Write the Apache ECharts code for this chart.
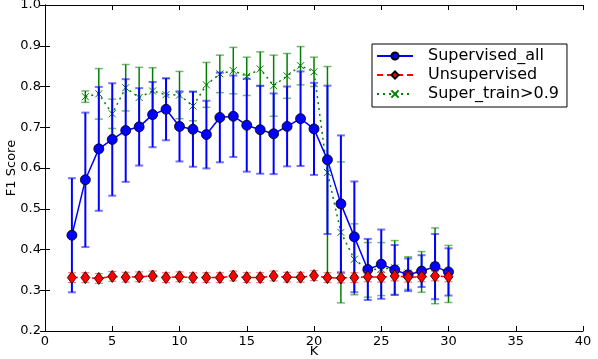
<!DOCTYPE html>
<html>
<head>
<meta charset="utf-8">
<script src="https://cdn.jsdelivr.net/npm/echarts@6/dist/echarts.min.js"></script>
<style>
  html, body { margin: 0; padding: 0; background: #fff; }
  #chart { width: 598px; height: 359px; }
</style>
</head>
<body>
<div id="chart"></div>
<script>
// K values
var kAll = [2, 3, 4, 5, 6, 7, 8, 9, 10, 11, 12, 13, 14, 15, 16, 17, 18, 19, 20, 21, 22, 23, 24, 25, 26, 27, 28, 29, 30];
var kTrain = [3, 4, 5, 6, 7, 8, 9, 10, 11, 12, 13, 14, 15, 16, 17, 18, 19, 20, 21, 22, 23, 24, 25, 26, 27, 28, 29, 30];

// Supervised_all
var supAll = [0.435, 0.571, 0.647, 0.670, 0.692, 0.701, 0.731, 0.744, 0.702, 0.695, 0.682, 0.724, 0.727, 0.705, 0.694, 0.684, 0.702, 0.721, 0.696, 0.620, 0.512, 0.431, 0.351, 0.364, 0.350, 0.338, 0.347, 0.358, 0.345];
var supAllErr = [0.140, 0.165, 0.152, 0.138, 0.126, 0.095, 0.080, 0.076, 0.086, 0.092, 0.083, 0.110, 0.100, 0.114, 0.108, 0.099, 0.098, 0.116, 0.113, 0.182, 0.168, 0.136, 0.075, 0.085, 0.061, 0.040, 0.039, 0.080, 0.058];

// Unsupervised
var unsup = [0.331, 0.331, 0.329, 0.334, 0.332, 0.333, 0.335, 0.331, 0.333, 0.331, 0.331, 0.331, 0.335, 0.331, 0.331, 0.335, 0.332, 0.332, 0.336, 0.331, 0.330, 0.331, 0.333, 0.332, 0.335, 0.332, 0.333, 0.335, 0.333];
var unsupErr = [0.012, 0.012, 0.012, 0.012, 0.012, 0.012, 0.012, 0.012, 0.012, 0.012, 0.012, 0.012, 0.012, 0.012, 0.012, 0.012, 0.012, 0.012, 0.012, 0.012, 0.012, 0.012, 0.012, 0.012, 0.012, 0.012, 0.012, 0.012, 0.012];

// Super_train>0.9
var supTrain = [0.775, 0.782, 0.733, 0.797, 0.773, 0.789, 0.780, 0.779, 0.752, 0.804, 0.831, 0.839, 0.825, 0.843, 0.802, 0.826, 0.851, 0.836, 0.589, 0.442, 0.376, 0.350, 0.352, 0.355, 0.342, 0.345, 0.360, 0.340];
var supTrainErr = [0.014, 0.062, 0.036, 0.057, 0.074, 0.057, 0.040, 0.058, 0.036, 0.055, 0.046, 0.057, 0.047, 0.042, 0.075, 0.055, 0.047, 0.036, 0.260, 0.173, 0.087, 0.067, 0.065, 0.067, 0.040, 0.050, 0.093, 0.070];

function pairs(xs, ys) {
  var out = [];
  for (var i = 0; i < xs.length; i++) out.push([xs[i], ys[i]]);
  return out;
}
function bars(xs, ys, es) {
  var out = [];
  for (var i = 0; i < xs.length; i++) out.push([xs[i], ys[i] - es[i], ys[i] + es[i]]);
  return out;
}
function errorBars(color, capW, width) {
  return function (params, api) {
    var x = api.value(0);
    var lo = api.coord([x, api.value(1)]);
    var hi = api.coord([x, api.value(2)]);
    var capStyle = { stroke: color, lineWidth: width, opacity: 0.55 };
    return {
      type: "group",
      children: [
        { type: "line", shape: { x1: lo[0], y1: lo[1], x2: hi[0], y2: hi[1] }, style: { stroke: color, lineWidth: width } },
        { type: "line", shape: { x1: hi[0] - capW, y1: hi[1], x2: hi[0] + capW, y2: hi[1] }, style: capStyle },
        { type: "line", shape: { x1: lo[0] - capW, y1: lo[1], x2: lo[0] + capW, y2: lo[1] }, style: capStyle }
      ]
    };
  };
}

var font = "DejaVu Sans";
var chart = echarts.init(document.getElementById("chart"));
var tickStyle = { inside: true, length: 5, lineStyle: { color: "#000" } };

chart.setOption({
  backgroundColor: "#fff",
  animation: false,
  grid: { left: 45, right: 15, top: 5, bottom: 28, outerBoundsMode: "none", containLabel: false },
  legend: {
    data: ["Supervised_all", "Unsupervised", "Super_train>0.9"],
    orient: "vertical",
    left: 372,
    top: 44,
    padding: [4, 8, 5, 4],
    itemGap: 3,
    itemWidth: 36,
    itemHeight: 9,
    borderColor: "#000",
    borderWidth: 1,
    borderRadius: 0,
    textStyle: { fontFamily: font, fontSize: 16, color: "#000", padding: [0, 0, 0, 10] }
  },
  xAxis: [
    {
      type: "value",
      min: 0,
      max: 40,
      interval: 5,
      name: "K",
      nameLocation: "middle",
      nameGap: 14,
      nameMoveOverlap: false,
      nameTextStyle: { fontFamily: font, fontSize: 13, color: "#000" },
      axisLine: { onZero: false, lineStyle: { color: "#000", width: 1 } },
      axisTick: tickStyle,
      axisLabel: { fontFamily: font, fontSize: 13, color: "#000", margin: 4 },
      splitLine: { show: false }
    },
    {
      type: "value",
      position: "top",
      min: 0,
      max: 40,
      interval: 5,
      axisLine: { lineStyle: { color: "#000", width: 1 } },
      axisTick: tickStyle,
      axisLabel: { show: false },
      splitLine: { show: false }
    }
  ],
  yAxis: [
    {
      type: "value",
      min: 0.2,
      max: 1.0,
      interval: 0.1,
      name: "F1 Score",
      nameLocation: "middle",
      nameGap: 27,
      nameMoveOverlap: false,
      nameTextStyle: { fontFamily: font, fontSize: 13, color: "#000" },
      axisLine: { show: true, onZero: false, lineStyle: { color: "#000", width: 1 } },
      axisTick: tickStyle,
      axisLabel: {
        fontFamily: font,
        fontSize: 13,
        color: "#000",
        margin: 4,
        formatter: function (v) { return v.toFixed(1); }
      },
      splitLine: { show: false }
    },
    {
      type: "value",
      position: "right",
      min: 0.2,
      max: 1.0,
      interval: 0.1,
      axisLine: { show: true, lineStyle: { color: "#000", width: 1 } },
      axisTick: tickStyle,
      axisLabel: { show: false },
      splitLine: { show: false }
    }
  ],
  series: [
    {
      name: "train_err",
      type: "custom",
      renderItem: errorBars("#008000", 4, 1.5),
      data: bars(kTrain, supTrain, supTrainErr),
      z: 1
    },
    {
      name: "Super_train>0.9",
      type: "line",
      data: pairs(kTrain, supTrain),
      symbol: "path://M0,0L10,10M10,0L0,10",
      symbolSize: 7,
      itemStyle: { color: "#008000", borderColor: "#008000", borderWidth: 1 },
      lineStyle: { color: "#008000", width: 1.5, type: [2, 4] },
      z: 2
    },
    {
      name: "all_err",
      type: "custom",
      renderItem: errorBars("#0000ff", 4, 2),
      data: bars(kAll, supAll, supAllErr),
      z: 3
    },
    {
      name: "Supervised_all",
      type: "line",
      data: pairs(kAll, supAll),
      symbol: "circle",
      symbolSize: 10,
      itemStyle: { color: "#0000ff", borderColor: "#000", borderWidth: 0.8 },
      lineStyle: { color: "#0000ff", width: 1.5 },
      z: 4
    },
    {
      name: "unsup_err",
      type: "custom",
      renderItem: errorBars("#ff0000", 4, 1.2),
      data: bars(kAll, unsup, unsupErr),
      z: 5
    },
    {
      name: "Unsupervised",
      type: "line",
      data: pairs(kAll, unsup),
      symbol: "diamond",
      symbolSize: [9, 12],
      itemStyle: { color: "#ff0000", borderColor: "#000", borderWidth: 0.8 },
      lineStyle: { color: "#ff0000", width: 1.5, type: [6, 4] },
      z: 6
    }
  ]
});
</script>
</body>
</html>
